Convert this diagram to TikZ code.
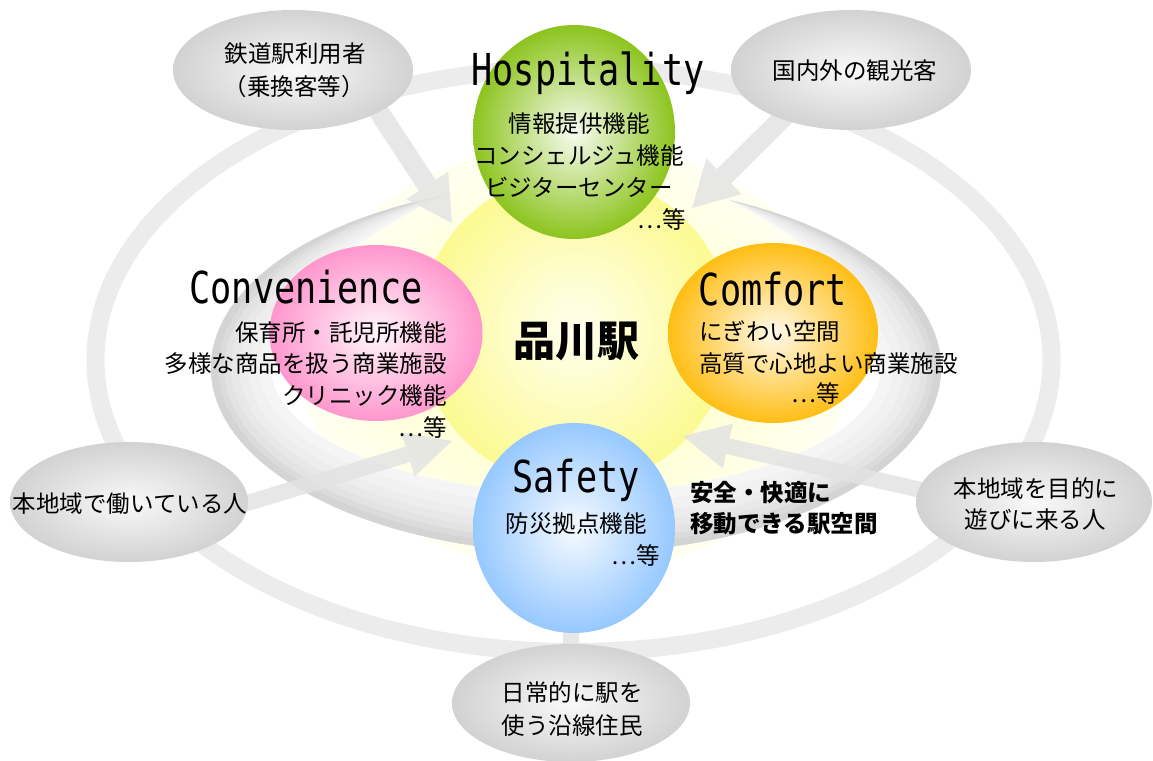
\documentclass[tikz,border=0pt]{standalone}
\usepackage{fontspec}
\newfontfamily\jp{Noto Sans CJK JP}
\newfontfamily\mono{DejaVu Sans Mono}[FakeStretch=0.8]
\usetikzlibrary{shapes.geometric,calc}

\definecolor{ringc}{gray}{0.925}
\definecolor{arrc}{gray}{0.89}
\definecolor{grayedge}{RGB}{210,210,210}
\definecolor{grayin}{RGB}{249,249,249}
\definecolor{greenedge}{RGB}{140,196,30}
\definecolor{pinkedge}{RGB}{255,150,205}
\definecolor{orangeedge}{RGB}{255,190,20}
\definecolor{blueedge}{RGB}{150,200,255}
\definecolor{yellowedge}{RGB}{252,250,145}

\tikzset{
  blob/.style={ellipse, inner sep=0pt, draw=none},
  person/.style={blob, inner color=grayin, outer color=grayedge},
  jt/.style={font=\jp\fontsize{23.5}{28}\selectfont, inner sep=0pt},
  jtb/.style={font=\jp\bfseries\fontsize{23.5}{28}\selectfont, inner sep=0pt},
  ttl/.style={font=\mono\fontsize{44}{50}\selectfont, inner sep=0pt, anchor=base},
  arrowfill/.style={fill=arrc, opacity=0.85},
}

% block arrow: #1 start, #2 tip, #3 shaft half width, #4 head half width, #5 head length
\newcommand\blkarrow[5]{%
  \coordinate (bab) at ($(#2)!#5!(#1)$);
  \fill[arrowfill] ($(#1)!#3!90:(#2)$) -- ($(bab)!#3!90:(#2)$) -- ($(bab)!#4!90:(#2)$)
    -- (#2) -- ($(bab)!#4!-90:(#2)$) -- ($(bab)!#3!-90:(#2)$) -- ($(#1)!#3!-90:(#2)$) -- cycle;}

% tapered swoosh ring: #1 width, #2 style
\newcommand\swoosh[2]{%
  \fill[#2] plot[domain=-65:249,samples=140,variable=\t]
      ({576+365*cos(\t)},{368+185*sin(\t)})
    -- plot[domain=249:-65,samples=140,variable=\t]
      ({576+(365-#1*min(1,2.2*sin((\t+65)*0.57325)))*cos(\t)},
       {368+(185-#1*min(1,2.2*sin((\t+65)*0.57325)))*sin(\t)})
    -- cycle;}

\begin{document}
\begin{tikzpicture}[x=1pt,y=-1pt]
\useasboundingbox (0,0) rectangle (1153,760);
\fill[white] (0,0) rectangle (1153,760);

% outer ring
\draw[ringc, line width=18pt] (573.5,360) ellipse [x radius=478pt, y radius=292pt];

% pale halo
\shade[inner color=yellow!28!white, outer color=yellow!5!white] (575,358) ellipse [x radius=275pt, y radius=215pt];

% inner swoosh ring (layered gradient)
\foreach \w/\p in {60/4,48/5.5,37/7,28/9,20/11,13/14,7/17}{\swoosh{\w}{black!\p}}

% central yellow circle
\node[circle, inner sep=0pt, inner color=yellow!6!white, outer color=yellowedge, minimum size=312pt] (shin) at (575,330) {};

% arrow coordinates
\coordinate (a1s) at (360,83);  \coordinate (a1t) at (452,223);
\coordinate (a2s) at (804,97);  \coordinate (a2t) at (692,208);
\coordinate (a3s) at (221,511); \coordinate (a3t) at (452,441);
\coordinate (a4s) at (939,494); \coordinate (a4t) at (683,436);
\coordinate (a5s) at (571,700); \coordinate (a5t) at (571,560);

\blkarrow{a1s}{a1t}{10pt}{25pt}{45pt}
\blkarrow{a2s}{a2t}{10pt}{25pt}{45pt}
\blkarrow{a3s}{a3t}{8pt}{23pt}{46pt}
\blkarrow{a4s}{a4t}{8pt}{23pt}{46pt}
\blkarrow{a5s}{a5t}{8pt}{23pt}{46pt}

% people ellipses
\node[person, minimum width=240pt, minimum height=120pt] (p1) at (293,70) {};
\node[person, minimum width=240pt, minimum height=120pt] (p2) at (851,70) {};
\node[person, minimum width=238pt, minimum height=120pt] (p3) at (129,502) {};
\node[person, minimum width=236pt, minimum height=120pt] (p4) at (1034,502) {};
\node[person, minimum width=238pt, minimum height=118pt] (p5) at (571,703) {};

% function ellipses
\node[blob, inner color=greenedge!6!white, outer color=greenedge, minimum width=202pt, minimum height=214pt] (hosp) at (574,132) {};
\node[blob, inner color=pinkedge!8!white, outer color=pinkedge, minimum width=213pt, minimum height=176pt] (conv) at (376,333) {};
\node[blob, inner color=orangeedge!8!white, outer color=orangeedge, minimum width=210pt, minimum height=180pt] (comf) at (773,333) {};
\node[blob, inner color=blueedge!8!white, outer color=blueedge, minimum width=202pt, minimum height=210pt] (safe) at (574,528) {};

% people texts
\node[jt, anchor=base] (p1a) at (295,63) {鉄道駅利用者};
\node[jt, anchor=base] (p1b) at (294,95) {（乗換客等）};
\node[jt, anchor=base] (p2a) at (855,79) {国内外の観光客};
\node[jt, anchor=base] (p3a) at (130,512) {本地域で働いている人};
\node[jt, anchor=base] (p4a) at (1036,497) {本地域を目的に};
\node[jt, anchor=base] (p4b) at (1035,528) {遊びに来る人};
\node[jt, anchor=base] (p5a) at (572,701) {日常的に駅を};
\node[jt, anchor=base] (p5b) at (572,734) {使う沿線住民};

% titles
\node[ttl] (ht) at (588,85) {Hospitality};
\node[ttl] (ct) at (306,303) {Convenience};
\node[ttl] (mt) at (773,305) {Comfort};
\node[ttl] (st) at (576,492) {Safety};

% Hospitality lines
\node[jt, anchor=base] (h1) at (579,132) {情報提供機能};
\node[jt, anchor=base] (h2) at (579,164) {コンシェルジュ機能};
\node[jt, anchor=base] (h3) at (579,196) {ビジターセンター};
\node[jt, anchor=base east] (h4) at (686,228) {…等};

% Convenience lines
\node[jt, anchor=base east] (c1) at (447,341) {保育所・託児所機能};
\node[jt, anchor=base east] (c2) at (447,372) {多様な商品を扱う商業施設};
\node[jt, anchor=base east] (c3) at (447,404) {クリニック機能};
\node[jt, anchor=base east] (c4) at (447,436) {…等};

% Comfort lines
\node[jt, anchor=base west] (m1) at (699,340) {にぎわい空間};
\node[jt, anchor=base west] (m2) at (699,372) {高質で心地よい商業施設};
\node[jt, anchor=base east] (m3) at (840,402) {…等};

% Safety lines
\node[jt, anchor=base] (s1) at (576,532) {防災拠点機能};
\node[jt, anchor=base east] (s2) at (660,564) {…等};

% center and slogan
\node[font=\jp\bfseries\fontsize{42}{46}\selectfont, inner sep=0pt, anchor=base] (shint) at (576,356) {品川駅};
\node[jtb, anchor=base west] (g1) at (690,501) {安全・快適に};
\node[jtb, anchor=base west] (g2) at (690,532) {移動できる駅空間};
\end{tikzpicture}
\end{document}
